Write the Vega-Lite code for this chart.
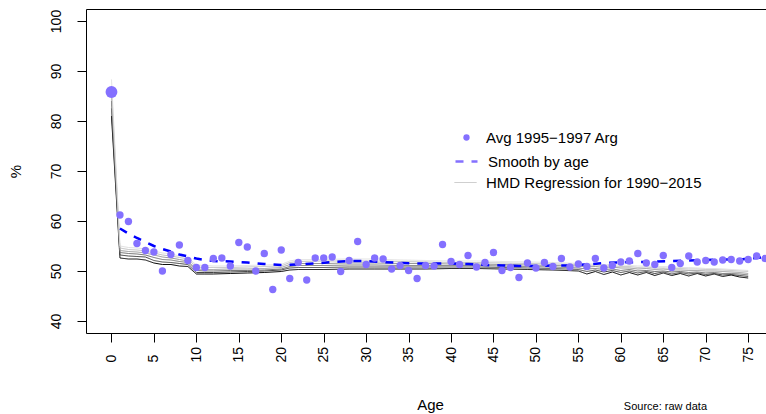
{
"$schema": "https://vega.github.io/schema/vega-lite/v6.json",
"width": 680, "height": 324,
"autosize": {"type": "none"},
"padding": {"left": 86, "top": 9, "right": 0, "bottom": 81},
"background": "white",
"config": {
 "font": "Liberation Sans",
 "view": {"stroke": "#000000", "strokeWidth": 1},
 "axis": {"grid": false, "domain": false, "tickColor": "#000000", "tickSize": 9, "labelColor": "#000000", "labelFontSize": 14, "titleColor": "#000000", "titleFontWeight": "normal"},
 "legend": {"labelFontSize": 15, "labelColor": "#000000", "labelLimit": 400, "padding": 0}
},
"title": {"text": "Source: raw data", "orient": "bottom", "anchor": "end", "frame": "group", "fontSize": 11, "fontWeight": "normal", "color": "#000000", "dx": -59, "offset": -2, "baseline": "alphabetic"},
"datasets": {
 "pts": [
  {"a":0,"v":85.8},{"a":1,"v":61.2},{"a":2,"v":59.9},{"a":3,"v":55.5},{"a":4,"v":54.1},{"a":5,"v":53.8},{"a":6,"v":50.0},{"a":7,"v":53.3},{"a":8,"v":55.2},{"a":9,"v":52.1},
  {"a":10,"v":50.7},{"a":11,"v":50.7},{"a":12,"v":52.5},{"a":13,"v":52.6},{"a":14,"v":51.0},{"a":15,"v":55.7},{"a":16,"v":54.8},{"a":17,"v":50.0},{"a":18,"v":53.5},{"a":19,"v":46.3},
  {"a":20,"v":54.2},{"a":21,"v":48.5},{"a":22,"v":51.7},{"a":23,"v":48.2},{"a":24,"v":52.6},{"a":25,"v":52.6},{"a":26,"v":52.8},{"a":27,"v":49.9},{"a":28,"v":52.1},{"a":29,"v":55.9},
  {"a":30,"v":51.3},{"a":31,"v":52.6},{"a":32,"v":52.4},{"a":33,"v":50.4},{"a":34,"v":51.1},{"a":35,"v":50.1},{"a":36,"v":48.5},{"a":37,"v":51.1},{"a":38,"v":51.0},{"a":39,"v":55.3},
  {"a":40,"v":51.9},{"a":41,"v":51.3},{"a":42,"v":53.1},{"a":43,"v":50.8},{"a":44,"v":51.7},{"a":45,"v":53.7},{"a":46,"v":50.1},{"a":47,"v":50.7},{"a":48,"v":48.7},{"a":49,"v":51.6},
  {"a":50,"v":50.6},{"a":51,"v":51.7},{"a":52,"v":50.9},{"a":53,"v":52.5},{"a":54,"v":50.8},{"a":55,"v":51.4},{"a":56,"v":50.9},{"a":57,"v":52.5},{"a":58,"v":50.6},{"a":59,"v":51.1},
  {"a":60,"v":51.8},{"a":61,"v":52.0},{"a":62,"v":53.5},{"a":63,"v":51.6},{"a":64,"v":51.3},{"a":65,"v":53.1},{"a":66,"v":50.7},{"a":67,"v":51.5},{"a":68,"v":53.0},{"a":69,"v":51.8},
  {"a":70,"v":52.1},{"a":71,"v":51.8},{"a":72,"v":52.2},{"a":73,"v":52.3},{"a":74,"v":52.0},{"a":75,"v":52.3},{"a":76,"v":53.0},{"a":77,"v":52.5}
 ],
 "smooth": [
  {"a":1,"v":58.5},{"a":2,"v":57.5},{"a":3,"v":56.6},{"a":4,"v":55.8},{"a":5,"v":55.0},{"a":6,"v":54.4},{"a":7,"v":53.9},{"a":8,"v":53.3},{"a":9,"v":52.9},{"a":10,"v":52.5},
  {"a":11,"v":52.2},{"a":12,"v":52.0},{"a":14,"v":51.9},{"a":16,"v":51.7},{"a":18,"v":51.4},{"a":20,"v":51.2},{"a":22,"v":51.3},{"a":24,"v":51.5},{"a":26,"v":51.8},{"a":28,"v":52.0},
  {"a":30,"v":52.0},{"a":32,"v":51.8},{"a":34,"v":51.6},{"a":36,"v":51.5},{"a":38,"v":51.5},{"a":40,"v":51.5},{"a":42,"v":51.4},{"a":44,"v":51.2},{"a":46,"v":51.1},{"a":48,"v":51.0},
  {"a":50,"v":51.0},{"a":52,"v":51.1},{"a":54,"v":51.1},{"a":56,"v":51.3},{"a":58,"v":51.6},{"a":60,"v":51.7},{"a":62,"v":51.8},{"a":64,"v":51.9},{"a":66,"v":52.0},{"a":68,"v":52.1},
  {"a":70,"v":52.2},{"a":72,"v":52.3},{"a":74,"v":52.3},{"a":76,"v":52.6},{"a":78,"v":52.9}
 ],
 "hmd": [
  {"g":1,"a":0,"v":81.0},{"g":1,"a":1,"v":52.6},{"g":1,"a":2,"v":52.4},{"g":1,"a":3,"v":52.4},{"g":1,"a":4,"v":52.2},{"g":1,"a":5,"v":51.6},{"g":1,"a":6,"v":51.3},{"g":1,"a":7,"v":51.3},{"g":1,"a":8,"v":51.0},{"g":1,"a":9,"v":50.9},
  {"g":1,"a":10,"v":49.4},{"g":1,"a":11,"v":49.4},{"g":1,"a":12,"v":49.4},{"g":1,"a":14,"v":49.5},{"g":1,"a":16,"v":49.6},{"g":1,"a":18,"v":49.7},{"g":1,"a":20,"v":49.9},{"g":1,"a":21,"v":50.2},{"g":1,"a":22,"v":50.3},{"g":1,"a":25,"v":50.3},
  {"g":1,"a":28,"v":50.4},{"g":1,"a":31,"v":50.4},{"g":1,"a":34,"v":50.4},{"g":1,"a":37,"v":50.4},{"g":1,"a":40,"v":50.5},{"g":1,"a":43,"v":50.5},{"g":1,"a":46,"v":50.4},{"g":1,"a":49,"v":50.3},{"g":1,"a":52,"v":50.2},{"g":1,"a":55,"v":50.0},
  {"g":1,"a":56,"v":49.4},{"g":1,"a":57,"v":49.9},{"g":1,"a":58,"v":49.3},{"g":1,"a":59,"v":49.8},{"g":1,"a":60,"v":49.2},{"g":1,"a":61,"v":49.7},{"g":1,"a":62,"v":49.2},{"g":1,"a":63,"v":49.7},{"g":1,"a":64,"v":49.1},{"g":1,"a":65,"v":49.6},
  {"g":1,"a":66,"v":49.1},{"g":1,"a":67,"v":49.5},{"g":1,"a":68,"v":49.0},{"g":1,"a":69,"v":49.5},{"g":1,"a":70,"v":49.0},{"g":1,"a":71,"v":49.4},{"g":1,"a":72,"v":48.9},{"g":1,"a":73,"v":49.2},{"g":1,"a":74,"v":48.8},{"g":1,"a":75,"v":48.6},
  {"g":2,"a":0,"v":82.5},{"g":2,"a":1,"v":53.2},{"g":2,"a":2,"v":53.0},{"g":2,"a":3,"v":52.9},{"g":2,"a":4,"v":52.8},{"g":2,"a":5,"v":52.1},{"g":2,"a":6,"v":51.8},{"g":2,"a":7,"v":51.7},{"g":2,"a":8,"v":51.5},{"g":2,"a":9,"v":51.3},
  {"g":2,"a":10,"v":49.7},{"g":2,"a":11,"v":49.7},{"g":2,"a":12,"v":49.7},{"g":2,"a":14,"v":49.8},{"g":2,"a":16,"v":49.9},{"g":2,"a":18,"v":50.0},{"g":2,"a":20,"v":50.2},{"g":2,"a":21,"v":50.6},{"g":2,"a":22,"v":50.7},{"g":2,"a":25,"v":50.7},
  {"g":2,"a":28,"v":50.8},{"g":2,"a":31,"v":50.8},{"g":2,"a":34,"v":50.8},{"g":2,"a":37,"v":50.8},{"g":2,"a":40,"v":50.8},{"g":2,"a":43,"v":50.8},{"g":2,"a":46,"v":50.7},{"g":2,"a":49,"v":50.6},{"g":2,"a":52,"v":50.5},{"g":2,"a":55,"v":50.3},
  {"g":2,"a":56,"v":49.9},{"g":2,"a":57,"v":50.2},{"g":2,"a":58,"v":49.8},{"g":2,"a":59,"v":50.1},{"g":2,"a":60,"v":49.7},{"g":2,"a":61,"v":50.0},{"g":2,"a":62,"v":49.6},{"g":2,"a":63,"v":49.9},{"g":2,"a":64,"v":49.5},{"g":2,"a":65,"v":49.8},
  {"g":2,"a":66,"v":49.4},{"g":2,"a":67,"v":49.7},{"g":2,"a":68,"v":49.4},{"g":2,"a":69,"v":49.6},{"g":2,"a":70,"v":49.3},{"g":2,"a":71,"v":49.5},{"g":2,"a":72,"v":49.2},{"g":2,"a":73,"v":49.3},{"g":2,"a":74,"v":49.1},{"g":2,"a":75,"v":48.9},
  {"g":3,"a":0,"v":84.0},{"g":3,"a":1,"v":53.7},{"g":3,"a":2,"v":53.5},{"g":3,"a":3,"v":53.4},{"g":3,"a":4,"v":53.2},{"g":3,"a":5,"v":52.7},{"g":3,"a":6,"v":52.3},{"g":3,"a":7,"v":52.2},{"g":3,"a":8,"v":51.9},{"g":3,"a":9,"v":51.7},
  {"g":3,"a":10,"v":50.1},{"g":3,"a":11,"v":50.0},{"g":3,"a":12,"v":50.0},{"g":3,"a":14,"v":50.1},{"g":3,"a":16,"v":50.1},{"g":3,"a":18,"v":50.2},{"g":3,"a":20,"v":50.4},{"g":3,"a":21,"v":50.9},{"g":3,"a":22,"v":51.1},{"g":3,"a":25,"v":51.1},
  {"g":3,"a":28,"v":51.2},{"g":3,"a":31,"v":51.2},{"g":3,"a":34,"v":51.1},{"g":3,"a":37,"v":51.1},{"g":3,"a":40,"v":51.1},{"g":3,"a":43,"v":51.1},{"g":3,"a":46,"v":51.0},{"g":3,"a":49,"v":50.9},{"g":3,"a":52,"v":50.8},{"g":3,"a":55,"v":50.6},
  {"g":3,"a":56,"v":50.4},{"g":3,"a":57,"v":50.5},{"g":3,"a":58,"v":50.3},{"g":3,"a":59,"v":50.4},{"g":3,"a":60,"v":50.1},{"g":3,"a":61,"v":50.3},{"g":3,"a":62,"v":50.0},{"g":3,"a":63,"v":50.1},{"g":3,"a":64,"v":49.9},{"g":3,"a":65,"v":50.0},
  {"g":3,"a":66,"v":49.8},{"g":3,"a":67,"v":49.9},{"g":3,"a":68,"v":49.7},{"g":3,"a":69,"v":49.8},{"g":3,"a":70,"v":49.6},{"g":3,"a":71,"v":49.7},{"g":3,"a":72,"v":49.5},{"g":3,"a":73,"v":49.5},{"g":3,"a":74,"v":49.4},{"g":3,"a":75,"v":49.2},
  {"g":4,"a":0,"v":85.5},{"g":4,"a":1,"v":54.1},{"g":4,"a":2,"v":53.9},{"g":4,"a":3,"v":53.8},{"g":4,"a":4,"v":53.6},{"g":4,"a":5,"v":53.2},{"g":4,"a":6,"v":52.8},{"g":4,"a":7,"v":52.6},{"g":4,"a":8,"v":52.3},{"g":4,"a":9,"v":52.0},
  {"g":4,"a":10,"v":50.4},{"g":4,"a":11,"v":50.3},{"g":4,"a":12,"v":50.3},{"g":4,"a":14,"v":50.4},{"g":4,"a":16,"v":50.4},{"g":4,"a":18,"v":50.5},{"g":4,"a":20,"v":50.7},{"g":4,"a":21,"v":51.3},{"g":4,"a":22,"v":51.5},{"g":4,"a":25,"v":51.5},
  {"g":4,"a":28,"v":51.6},{"g":4,"a":31,"v":51.6},{"g":4,"a":34,"v":51.5},{"g":4,"a":37,"v":51.5},{"g":4,"a":40,"v":51.4},{"g":4,"a":43,"v":51.4},{"g":4,"a":46,"v":51.3},{"g":4,"a":49,"v":51.2},{"g":4,"a":52,"v":51.1},{"g":4,"a":55,"v":51.0},
  {"g":4,"a":56,"v":50.8},{"g":4,"a":57,"v":50.9},{"g":4,"a":58,"v":50.7},{"g":4,"a":59,"v":50.8},{"g":4,"a":60,"v":50.6},{"g":4,"a":61,"v":50.6},{"g":4,"a":62,"v":50.4},{"g":4,"a":63,"v":50.5},{"g":4,"a":64,"v":50.3},{"g":4,"a":65,"v":50.4},
  {"g":4,"a":66,"v":50.2},{"g":4,"a":67,"v":50.2},{"g":4,"a":68,"v":50.1},{"g":4,"a":69,"v":50.1},{"g":4,"a":70,"v":50.0},{"g":4,"a":71,"v":50.0},{"g":4,"a":72,"v":49.9},{"g":4,"a":73,"v":49.8},{"g":4,"a":74,"v":49.7},{"g":4,"a":75,"v":49.5},
  {"g":5,"a":0,"v":87.0},{"g":5,"a":1,"v":54.6},{"g":5,"a":2,"v":54.3},{"g":5,"a":3,"v":54.2},{"g":5,"a":4,"v":54.0},{"g":5,"a":5,"v":53.6},{"g":5,"a":6,"v":53.2},{"g":5,"a":7,"v":53.0},{"g":5,"a":8,"v":52.7},{"g":5,"a":9,"v":52.4},
  {"g":5,"a":10,"v":50.8},{"g":5,"a":11,"v":50.7},{"g":5,"a":12,"v":50.7},{"g":5,"a":14,"v":50.7},{"g":5,"a":16,"v":50.8},{"g":5,"a":18,"v":50.9},{"g":5,"a":20,"v":51.0},{"g":5,"a":21,"v":51.7},{"g":5,"a":22,"v":51.9},{"g":5,"a":25,"v":52.0},
  {"g":5,"a":28,"v":52.0},{"g":5,"a":31,"v":52.0},{"g":5,"a":34,"v":51.9},{"g":5,"a":37,"v":51.8},{"g":5,"a":40,"v":51.7},{"g":5,"a":43,"v":51.7},{"g":5,"a":46,"v":51.6},{"g":5,"a":49,"v":51.5},{"g":5,"a":52,"v":51.4},{"g":5,"a":55,"v":51.3},
  {"g":5,"a":56,"v":51.1},{"g":5,"a":57,"v":51.2},{"g":5,"a":58,"v":51.0},{"g":5,"a":59,"v":51.0},{"g":5,"a":60,"v":50.9},{"g":5,"a":61,"v":50.9},{"g":5,"a":62,"v":50.7},{"g":5,"a":63,"v":50.8},{"g":5,"a":64,"v":50.6},{"g":5,"a":65,"v":50.6},
  {"g":5,"a":66,"v":50.5},{"g":5,"a":67,"v":50.5},{"g":5,"a":68,"v":50.4},{"g":5,"a":69,"v":50.4},{"g":5,"a":70,"v":50.3},{"g":5,"a":71,"v":50.3},{"g":5,"a":72,"v":50.2},{"g":5,"a":73,"v":50.1},{"g":5,"a":74,"v":50.0},{"g":5,"a":75,"v":49.9},
  {"g":6,"a":0,"v":88.3},{"g":6,"a":1,"v":55.0},{"g":6,"a":2,"v":54.7},{"g":6,"a":3,"v":54.6},{"g":6,"a":4,"v":54.4},{"g":6,"a":5,"v":54.0},{"g":6,"a":6,"v":53.6},{"g":6,"a":7,"v":53.4},{"g":6,"a":8,"v":53.0},{"g":6,"a":9,"v":52.7},
  {"g":6,"a":10,"v":51.2},{"g":6,"a":11,"v":51.1},{"g":6,"a":12,"v":51.0},{"g":6,"a":14,"v":51.0},{"g":6,"a":16,"v":51.1},{"g":6,"a":18,"v":51.2},{"g":6,"a":20,"v":51.3},{"g":6,"a":21,"v":52.0},{"g":6,"a":22,"v":52.3},{"g":6,"a":25,"v":52.3},
  {"g":6,"a":28,"v":52.4},{"g":6,"a":31,"v":52.4},{"g":6,"a":34,"v":52.2},{"g":6,"a":37,"v":52.1},{"g":6,"a":40,"v":52.0},{"g":6,"a":43,"v":52.0},{"g":6,"a":46,"v":51.9},{"g":6,"a":49,"v":51.8},{"g":6,"a":52,"v":51.7},{"g":6,"a":55,"v":51.5},
  {"g":6,"a":56,"v":51.4},{"g":6,"a":57,"v":51.4},{"g":6,"a":58,"v":51.3},{"g":6,"a":59,"v":51.3},{"g":6,"a":60,"v":51.2},{"g":6,"a":61,"v":51.1},{"g":6,"a":62,"v":51.0},{"g":6,"a":63,"v":51.0},{"g":6,"a":64,"v":50.9},{"g":6,"a":65,"v":50.9},
  {"g":6,"a":66,"v":50.8},{"g":6,"a":67,"v":50.7},{"g":6,"a":68,"v":50.7},{"g":6,"a":69,"v":50.6},{"g":6,"a":70,"v":50.5},{"g":6,"a":71,"v":50.5},{"g":6,"a":72,"v":50.4},{"g":6,"a":73,"v":50.3},{"g":6,"a":74,"v":50.2},{"g":6,"a":75,"v":50.1}
 ]
},
"resolve": {"scale": {"strokeDash": "independent"}, "legend": {"strokeDash": "independent"}},
"layer": [
 {
  "mark": {"type": "rule", "strokeDash": [4, 4], "color": "#000000", "strokeWidth": 1},
  "encoding": {
   "y": {"datum": 50, "type": "quantitative", "scale": {"domain": [37.6, 102.4], "nice": false, "zero": false},
     "axis": {"values": [40, 50, 60, 70, 80, 90, 100], "title": "%", "titleFontSize": 15, "titleAngle": 270, "titleX": -66, "titleY": 162, "titleBaseline": "alphabetic", "titleAlign": "center", "labelAngle": 270, "labelAlign": "center", "labelBaseline": "alphabetic", "labelPadding": 17, "labelFontSize": 14}}
  }
 },
 {
  "data": {"name": "hmd"},
  "mark": {"type": "line", "strokeWidth": 1, "clip": true},
  "encoding": {
   "x": {"field": "a", "type": "quantitative", "scale": {"domain": [-3, 77.1], "nice": false, "zero": false},
     "axis": {"values": [0, 5, 10, 15, 20, 25, 30, 35, 40, 45, 50, 55, 60, 65, 70, 75], "title": "Age", "titleFontSize": 15, "titleX": 344, "titleY": 76, "titleBaseline": "alphabetic", "titleAlign": "center", "labelAngle": 270, "labelAlign": "left", "labelBaseline": "middle", "labelPadding": 20, "labelFontSize": 14, "labelFlush": false, "labelOverlap": false}},
   "y": {"field": "v", "type": "quantitative",
     "axis": {"values": [40, 50, 60, 70, 80, 90, 100], "title": "%", "titleFontSize": 15, "titleAngle": 270, "titleX": -66, "titleY": 162, "titleBaseline": "alphabetic", "titleAlign": "center", "labelAngle": 270, "labelAlign": "center", "labelBaseline": "alphabetic", "labelPadding": 17, "labelFontSize": 14}},
   "stroke": {"field": "g", "type": "nominal", "scale": {"range": ["#000000", "#404040", "#6e6e6e", "#969696", "#bdbdbd", "#dedede"]}, "legend": null},
   "strokeDash": {"datum": "HMD Regression for 1990−2015", "type": "nominal", "scale": {"range": [[1, 0]]},
     "legend": {"orient": "none", "legendX": 368, "legendY": 162, "title": null, "symbolType": "stroke", "symbolSize": 484, "symbolStrokeColor": "#BEBEBE", "symbolStrokeWidth": 1, "labelOffset": 9}}
  }
 },
 {
  "data": {"name": "smooth"},
  "mark": {"type": "line", "color": "#0000FF", "strokeWidth": 2.5, "clip": true},
  "encoding": {
   "x": {"field": "a", "type": "quantitative"},
   "y": {"field": "v", "type": "quantitative"},
   "strokeDash": {"datum": "Smooth by age", "type": "nominal", "scale": {"range": [[8, 8]]},
     "legend": {"orient": "none", "legendX": 368, "legendY": 140, "title": null, "symbolType": "stroke", "symbolSize": 484, "symbolStrokeColor": "#8470FF", "symbolStrokeWidth": 2.5, "labelOffset": 9}}
  }
 },
 {
  "data": {"name": "pts"},
  "transform": [{"filter": "datum.a > 0"}],
  "mark": {"type": "circle", "size": 54, "opacity": 1, "clip": true},
  "encoding": {
   "x": {"field": "a", "type": "quantitative"},
   "y": {"field": "v", "type": "quantitative"},
   "color": {"datum": "Avg 1995−1997 Arg", "type": "nominal", "scale": {"domain": ["Avg 1995−1997 Arg"], "range": ["#8470FF"]},
     "legend": {"orient": "none", "legendX": 373, "legendY": 121, "title": null, "symbolType": "circle", "symbolSize": 40, "symbolOpacity": 1, "labelOffset": 12}}
  }
 },
 {
  "data": {"name": "pts"},
  "transform": [{"filter": "datum.a == 0"}],
  "mark": {"type": "circle", "size": 140, "opacity": 1, "clip": true},
  "encoding": {
   "x": {"field": "a", "type": "quantitative"},
   "y": {"field": "v", "type": "quantitative"},
   "color": {"datum": "Avg 1995−1997 Arg", "type": "nominal"}
  }
 }
]
}
